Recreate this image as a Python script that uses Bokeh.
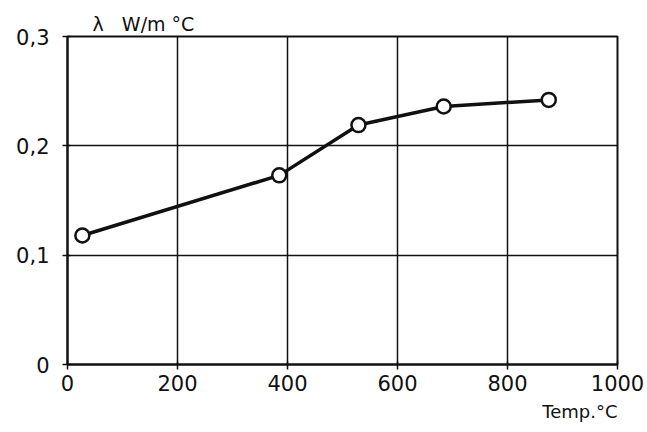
from bokeh.plotting import figure
from bokeh.models import Range1d, FixedTicker, CustomJSTickFormatter, Title, ColumnDataSource
from bokeh.embed import file_html
from bokeh.resources import INLINE

# Thermal conductivity versus temperature
temperature = [27, 385, 529, 684, 875]          # °C
conductivity = [0.118, 0.173, 0.219, 0.236, 0.242]  # W/m °C

x_ticks = [0, 200, 400, 600, 800, 1000]
y_ticks = [0, 0.1, 0.2, 0.3]

FONT = "DejaVu Sans"
INK = "#111111"
NBSP = "\u00a0"

p = figure(width=647, height=432, output_backend="svg", toolbar_location=None,
           x_range=Range1d(0, 1000), y_range=Range1d(0, 0.3),
           min_border_left=67, min_border_right=30,
           min_border_top=36, min_border_bottom=68)
p.background_fill_color = "white"
p.border_fill_color = "white"
p.outline_line_color = INK
p.outline_line_width = 2

for ax in (p.xaxis[0], p.yaxis[0]):
    ax.axis_line_color = INK
    ax.axis_line_width = 2
    ax.major_tick_line_color = INK
    ax.major_tick_line_width = 1.5
    ax.major_tick_in = 3
    ax.major_tick_out = 5
    ax.minor_tick_line_color = None
    ax.major_label_text_font = FONT
    ax.major_label_text_color = INK

p.xaxis.ticker = FixedTicker(ticks=x_ticks)
p.yaxis.ticker = FixedTicker(ticks=y_ticks)
p.xaxis.major_label_text_font_size = "21px"
p.yaxis.major_label_text_font_size = "21px"
p.xaxis.major_label_standoff = 5
p.yaxis.major_label_standoff = 13
p.yaxis.formatter = CustomJSTickFormatter(
    code="return tick == 0 ? '0' : tick.toFixed(1).replace('.', ',');")

p.xgrid.ticker = FixedTicker(ticks=x_ticks)
p.ygrid.ticker = FixedTicker(ticks=y_ticks)
for g in (p.xgrid[0], p.ygrid[0]):
    g.grid_line_color = INK
    g.grid_line_width = 1.5

src = ColumnDataSource(dict(t=temperature, k=conductivity))
p.line("t", "k", source=src, line_color=INK, line_width=3.5)
p.scatter("t", "k", source=src, size=14, marker="circle",
          fill_color="white", line_color=INK, line_width=2.5)

# Quantity / unit captions
p.add_layout(Title(text="λ" + NBSP * 3 + "W/m" + NBSP + "°C", align="left", offset=25,
                   standoff=4, text_font=FONT, text_font_size="19px",
                   text_font_style="normal", text_color=INK), "above")
p.add_layout(Title(text="Temp.°C", align="right", offset=0, standoff=10,
                   text_font=FONT, text_font_size="18px", text_font_style="normal",
                   text_color=INK), "below")

open("out.html", "w").write(file_html(p, INLINE))
